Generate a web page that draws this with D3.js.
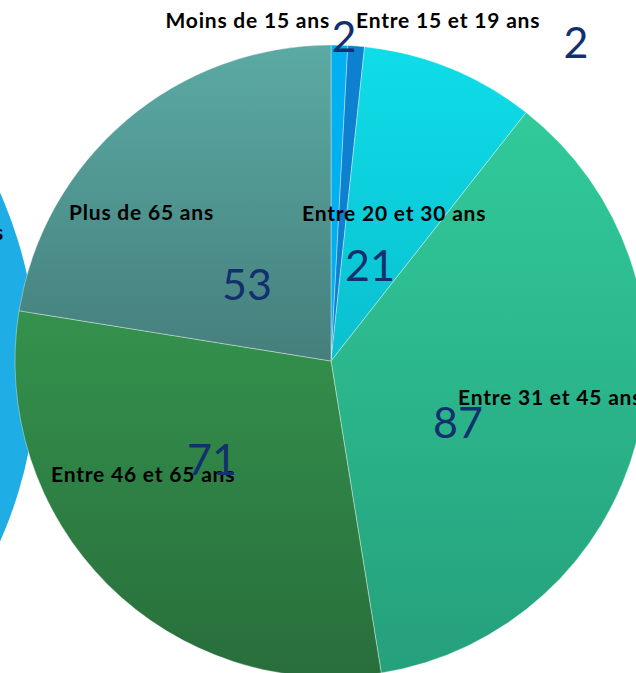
<!DOCTYPE html>
<html>
<head>
<meta charset="utf-8">
<script src="https://cdn.jsdelivr.net/npm/d3@7"></script>
<style>
  html, body { margin: 0; padding: 0; background: #fff; overflow: hidden; }
  svg { display: block; }
  .lbl { font-family: Lato, "Open Sans", sans-serif; font-weight: bold; font-size: 21px; letter-spacing: 0.8px; fill: #000; }
  .val { font-family: Lato, "Open Sans", sans-serif; font-size: 43px; fill: #12306e; }
</style>
</head>
<body>
<div id="result"></div>
<script>
const categories = ['Moins de 15 ans', 'Entre 15 et 19 ans', 'Entre 20 et 30 ans', 'Entre 31 et 45 ans', 'Entre 46 et 65 ans', 'Plus de 65 ans'];
const values = [2, 2, 21, 87, 71, 53];

// top / bottom colour of each slice
const topColors = ['#00b0f0', '#0e80d0', '#0edde8', '#31ca9a', '#34924d', '#5baaa4'];
const botColors = ['#00b0f0', '#0e80d0', '#0bbfcf', '#25a07c', '#286e3b', '#457f7c'];

// label placement (offsets from pie centre), hand tuned like the original
const labelPos = [[-1, -333, 'end'], [25, -333, 'start'], [-29, -140, 'start'], [127, 44, 'start'], [-280, 121, 'start'], [-262, -141, 'start']];
const valuePos = [[13, -309], [245, -303], [39, -80], [127, 77], [-119, 114], [-84, -61]];

const width = 636, height = 673;
const cx = 331, cy = 361, radius = 316;

const svg = d3.select('#result').append('svg')
  .attr('width', width)
  .attr('height', height);

const defs = svg.append('defs');
values.forEach(function(v, i) {
  const g = defs.append('linearGradient')
    .attr('id', 'grad' + i)
    .attr('x1', 0).attr('y1', 0).attr('x2', 0).attr('y2', 1);
  g.append('stop').attr('offset', '0%').attr('stop-color', topColors[i]);
  g.append('stop').attr('offset', '100%').attr('stop-color', botColors[i]);
});

// second pie peeking in from the left
svg.append('circle')
  .attr('cx', -393)
  .attr('cy', 367)
  .attr('r', 430)
  .attr('fill', '#1eade4');

svg.append('text')
  .attr('class', 'lbl')
  .attr('x', 4)
  .attr('y', 240)
  .attr('text-anchor', 'end')
  .text('Plus de 65 ans');

const pie = d3.pie().sort(null).value(function(d) { return d; });
const arc = d3.arc().innerRadius(0).outerRadius(radius);

const wrapper = svg.append('g')
  .attr('transform', `translate(${cx},${cy})`);

wrapper.selectAll('path')
  .data(pie(values))
  .enter().append('path')
  .attr('d', arc)
  .attr('fill', function(d, i) { return 'url(#grad' + i + ')'; })
  .attr('stroke', 'rgba(255,255,255,0.45)')
  .attr('stroke-width', 0.8);

wrapper.selectAll('text.lbl')
  .data(categories)
  .enter().append('text')
  .attr('class', 'lbl')
  .attr('x', function(d, i) { return labelPos[i][0]; })
  .attr('y', function(d, i) { return labelPos[i][1]; })
  .attr('text-anchor', function(d, i) { return labelPos[i][2]; })
  .text(function(d) { return d; });

wrapper.selectAll('text.val')
  .data(values)
  .enter().append('text')
  .attr('class', 'val')
  .attr('x', function(d, i) { return valuePos[i][0]; })
  .attr('y', function(d, i) { return valuePos[i][1]; })
  .attr('text-anchor', 'middle')
  .text(function(d) { return d; });
</script>
</body>
</html>
